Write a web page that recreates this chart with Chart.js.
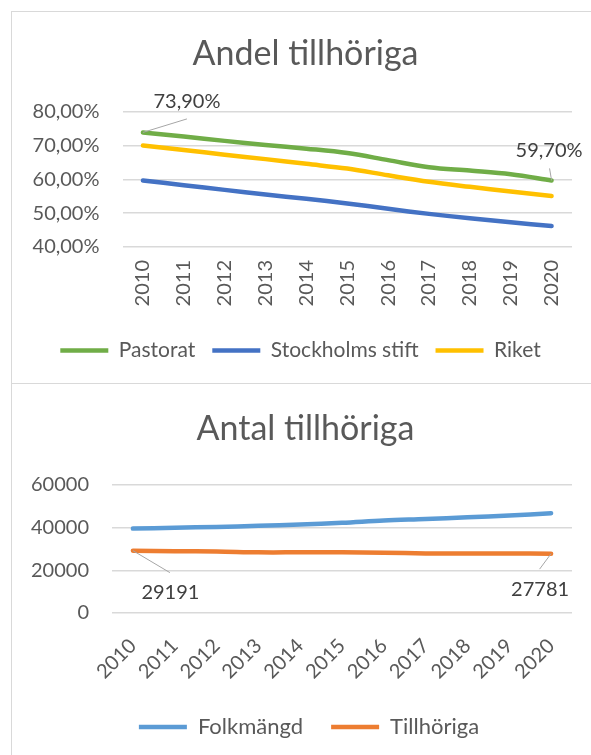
<!DOCTYPE html>
<html lang="sv">
<head>
<meta charset="utf-8">
<title>Andel och antal tillhöriga</title>
<script src="https://cdn.jsdelivr.net/npm/chart.js@4.4.1/dist/chart.umd.min.js"></script>
<style>
  html, body { margin: 0; padding: 0; background: #fff; overflow: hidden; }
  .page { position: relative; width: 591px; height: 755px; overflow: hidden; }
  .frame { position: absolute; left: 11px; width: 620px; border: 1px solid #d9d9d9; box-sizing: border-box; }
  .frame-top { top: 11px; height: 373px; }
  .frame-bottom { top: 383px; height: 420px; }
  .chart-box { position: absolute; left: 0; width: 591px; }
  #boxAndel { top: 0; height: 384px; }
  #boxAntal { top: 384px; height: 371px; }
</style>
</head>
<body>
<div class="page">
  <div class="frame frame-top"></div>
  <div class="frame frame-bottom"></div>
  <div class="chart-box" id="boxAndel"><canvas id="chartAndel" width="591" height="384"></canvas></div>
  <div class="chart-box" id="boxAntal"><canvas id="chartAntal" width="591" height="371"></canvas></div>
</div>
<script>
// ── Data ───────────────────────────────────────────────────────────

var YEARS = ['2010', '2011', '2012', '2013', '2014', '2015', '2016', '2017', '2018', '2019', '2020'];

// Andel tillhöriga (%)
var PASTORAT         = [73.9, 72.7, 71.4, 70.2, 69.1, 67.8, 65.7, 63.6, 62.6, 61.5, 59.7];
var STOCKHOLMS_STIFT = [59.7, 58.3, 56.9, 55.5, 54.3, 52.9, 51.3, 49.8, 48.5, 47.3, 46.2];
var RIKET            = [70.0, 68.7, 67.3, 66.0, 64.6, 63.2, 61.2, 59.3, 57.8, 56.4, 55.1];
var ANDEL_TICKS      = [40, 50, 60, 70, 80];

// Antal tillhöriga
var FOLKMANGD   = [39500, 39900, 40300, 40800, 41400, 42200, 43300, 44000, 44800, 45600, 46700];
var TILLHORIGA  = [29191, 28900, 28800, 28400, 28400, 28400, 28200, 27900, 27800, 27800, 27781];
var ANTAL_TICKS = [0, 20000, 40000, 60000];

// ── Helpers ────────────────────────────────────────────────────────

var FONT = 'Lato, "Open Sans", sans-serif';
var TEXT = '#595959';

function _pct(v) {
  return v.toFixed(2).replace('.', ',') + '%';
}

// Data labels with a thin grey leader line, offset from the point
var leaderLabels = {
  id: 'leaderLabels',
  afterDatasetsDraw: function (chart, args, opts) {
    var ctx = chart.ctx;
    (opts.items || []).forEach(function (it) {
      var pt = chart.getDatasetMeta(it.dataset).data[it.index];
      ctx.save();
      ctx.strokeStyle = '#a6a6a6';
      ctx.lineWidth = 1;
      ctx.beginPath();
      ctx.moveTo(pt.x, pt.y);
      ctx.lineTo(pt.x + it.lineDx, pt.y + it.lineDy);
      ctx.stroke();
      ctx.fillStyle = '#404040';
      ctx.font = '20px ' + FONT;
      ctx.textAlign = 'center';
      ctx.textBaseline = 'middle';
      ctx.fillText(it.text, pt.x + it.dx, pt.y + it.dy);
      ctx.restore();
    });
  }
};

// Nudge title / legend sideways (Excel centres them on its own frame)
var boxShift = {
  id: 'boxShift',
  afterLayout: function (chart, args, opts) {
    if (chart.titleBlock && opts.title) {
      chart.titleBlock.left += opts.title;
      chart.titleBlock.right += opts.title;
    }
    if (chart.legend && opts.legend) {
      chart.legend.left += opts.legend;
      chart.legend.right += opts.legend;
    }
  }
};

function _series(label, data, color) {
  return {
    label: label,
    data: data,
    borderColor: color,
    backgroundColor: color,
    borderWidth: 4.5,
    borderCapStyle: 'round',
    borderJoinStyle: 'round',
    pointRadius: 0,
    tension: 0.35,
    fill: false
  };
}

function _buildChart(canvas, cfg) {
  return new Chart(canvas, {
    type: 'line',
    data: { labels: YEARS, datasets: cfg.datasets },
    plugins: [leaderLabels, boxShift],
    options: {
      responsive: false,
      animation: false,
      layout: { padding: cfg.padding },
      scales: {
        x: {
          offset: true,
          grid: { display: false, drawTicks: false },
          border: { display: false },
          ticks: {
            color: TEXT,
            font: { family: FONT, size: 20 },
            minRotation: cfg.rotation,
            maxRotation: cfg.rotation,
            autoSkip: false,
            padding: cfg.xPad
          },
          afterFit: function (s) { s.height = cfg.xHeight; }
        },
        y: {
          min: cfg.ticks[0],
          max: cfg.ticks[cfg.ticks.length - 1],
          afterBuildTicks: function (s) {
            s.ticks = cfg.ticks.map(function (v) { return { value: v }; });
          },
          grid: { color: '#d9d9d9', lineWidth: 1.5, drawTicks: false },
          border: { display: false },
          ticks: {
            color: TEXT,
            font: { family: FONT, size: 20 },
            padding: cfg.yPad,
            callback: cfg.yFormat
          },
          afterFit: function (s) { s.width = cfg.yWidth; }
        }
      },
      plugins: {
        title: {
          display: true,
          text: cfg.title,
          color: TEXT,
          font: { family: FONT, size: 34, weight: 'normal' },
          padding: cfg.titlePad
        },
        legend: {
          position: 'bottom',
          labels: {
            color: TEXT,
            font: { family: FONT, size: cfg.legendSize },
            usePointStyle: true,
            pointStyle: 'line',
            pointStyleWidth: 48,
            padding: cfg.legendPad
          }
        },
        tooltip: { enabled: false },
        leaderLabels: { items: cfg.labels },
        boxShift: cfg.shift
      }
    }
  });
}

// ── Charts ─────────────────────────────────────────────────────────

_buildChart(document.getElementById('chartAndel'), {
  title: 'Andel tillhöriga',
  datasets: [
    _series('Pastorat', PASTORAT, '#70ad47'),
    _series('Stockholms stift', STOCKHOLMS_STIFT, '#4472c4'),
    _series('Riket', RIKET, '#ffc000')
  ],
  ticks: ANDEL_TICKS,
  yFormat: function (v) { return _pct(v); },
  padding: { top: 0, left: 29, right: 19, bottom: 13 },
  titlePad: { top: 34, bottom: 37 },
  yWidth: 93.5,
  yPad: 23,
  xHeight: 76,
  xPad: 13,
  rotation: 90,
  legendSize: 21,
  legendPad: 17,
  shift: { title: 5, legend: 0 },
  labels: [
    { dataset: 0, index: 0, text: _pct(PASTORAT[0]), dx: 44, dy: -31, lineDx: 44, lineDy: -13.5 },
    { dataset: 0, index: 10, text: _pct(PASTORAT[10]), dx: -2.5, dy: -30, lineDx: -2, lineDy: -12 }
  ]
});

_buildChart(document.getElementById('chartAntal'), {
  title: 'Antal tillhöriga',
  datasets: [
    _series('Folkmängd', FOLKMANGD, '#5b9bd5'),
    _series('Tillhöriga', TILLHORIGA, '#ed7d31')
  ],
  ticks: ANTAL_TICKS,
  yFormat: function (v) { return String(v); },
  padding: { top: 0, left: 29, right: 19, bottom: 7 },
  titlePad: { top: 25, bottom: 35 },
  yWidth: 83,
  yPad: 23,
  xHeight: 75,
  xPad: 21,
  rotation: 45,
  legendSize: 22,
  legendPad: 28,
  shift: { title: 5, legend: 8.5 },
  labels: [
    { dataset: 1, index: 0, text: String(TILLHORIGA[0]), dx: 37.5, dy: 42, lineDx: 37, lineDy: 22 },
    { dataset: 1, index: 10, text: String(TILLHORIGA[10]), dx: -11, dy: 35.5, lineDx: -11.5, lineDy: 15.5 }
  ]
});
</script>
</body>
</html>
